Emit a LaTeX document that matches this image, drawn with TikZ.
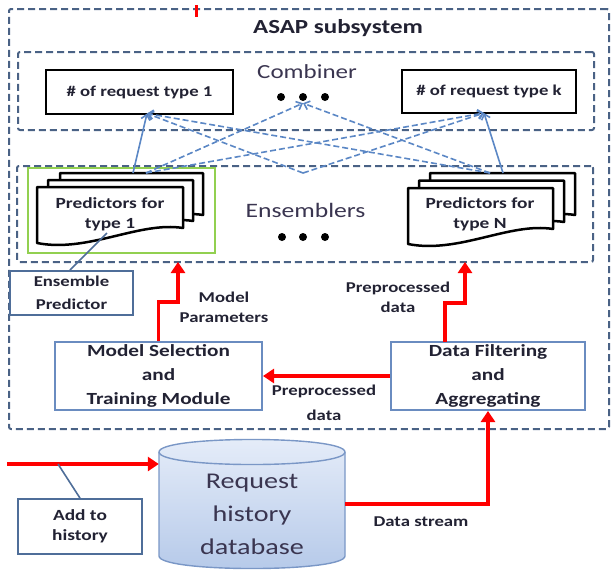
\documentclass[tikz,border=0pt]{standalone}
\usepackage{fontspec}
\setmainfont[FakeStretch=1.25]{Carlito}
\usetikzlibrary{arrows.meta}
\definecolor{dashblue}{HTML}{4A6285}
\definecolor{arrblue}{HTML}{5B87C5}
\definecolor{boxblue}{HTML}{6A8CC0}
\definecolor{linkblue}{HTML}{4F6E99}
\definecolor{leafgreen}{HTML}{92D050}
\definecolor{txt}{HTML}{222233}
\definecolor{softtxt}{HTML}{3A3550}
\definecolor{redline}{HTML}{FF0000}
\definecolor{dbtop}{HTML}{E6EDF9}
\definecolor{dbbot}{HTML}{B5C9E9}
\definecolor{dbedge}{HTML}{7A97C6}
\newcommand\docsheet[4]{%
  \filldraw[docstyle] (#1,#2) -- (#3,#2) -- (#3,{#4-15})
    .. controls ({#3-0.3*(#3-#1)},{#4-22}) and ({#1+0.35*(#3-#1)},{#4+10}) .. (#1,#4) -- cycle;}
\begin{document}
\begin{tikzpicture}[x=1pt,y=-1pt,
  dashbox/.style={draw=dashblue, line width=2pt, dash pattern=on 7pt off 4pt, rounded corners=2pt, inner sep=0pt},
  blackbox/.style={draw=black, line width=2.5pt, fill=white, inner sep=0pt, text=txt, font=\bfseries\fontsize{15}{18}\selectfont},
  bluebox/.style={draw=boxblue, line width=2pt, fill=white, inner sep=0pt, align=center, text=txt},
  lbl/.style={font=\bfseries\fontsize{15}{20}\selectfont, text=txt, align=center, inner sep=0pt},
  bigtitle/.style={font=\fontsize{20}{24}\selectfont, text=softtxt, inner sep=0pt},
  redarrow/.style={draw=redline, line width=3.5pt, -{Triangle[width=14pt,length=11pt]}},
  bluearrow/.style={draw=arrblue, line width=1.6pt, -{Straight Barb[length=5pt,width=9pt]}},
  bluedash/.style={bluearrow, dash pattern=on 6pt off 3pt},
  docstyle/.style={draw=black, line width=2.5pt, fill=white, line join=round},
  linkline/.style={draw=linkblue, line width=1.6pt}
]
\useasboundingbox (0,0) rectangle (611,574);

% outer subsystem box
\node[dashbox, minimum width=600pt, minimum height=420pt] (asap) at (309,219) {};
\draw[redline, line width=3pt] (196,5) -- (196,17);
\node[font=\bfseries\fontsize{20}{24}\selectfont, text=txt, inner sep=0pt] (title) at (338,28) {ASAP subsystem};

% combiner
\node[dashbox, minimum width=576pt, minimum height=78pt] (comb) at (306,91) {};
\node[bigtitle] (combl) at (307,72) {Combiner};
\node[blackbox, minimum width=187pt, minimum height=44pt] (box1) at (139.5,92) {\# of request type 1};
\node[blackbox, minimum width=174pt, minimum height=43pt] (boxk) at (489,91.5) {\# of request type k};
\node[inner sep=0pt, minimum width=56pt, minimum height=12pt] (cdots) at (303,97) {};
\fill[black] (281,97) circle[radius=4] (303,97) circle[radius=4] (325,97) circle[radius=4];

% ensemblers
\node[dashbox, minimum width=576pt, minimum height=96pt] (ens) at (305,214) {};
\node[bigtitle, font=\fontsize{20.5}{24}\selectfont] (ensl) at (305.5,210) {Ensemblers};
\fill[black] (282,237) circle[radius=4] (303,237) circle[radius=4] (325,237) circle[radius=4];
\node[draw=leafgreen, line width=1.6pt, minimum width=187pt, minimum height=85pt, inner sep=0pt] (grn) at (121.5,210.5) {};

% document stacks
\docsheet{60}{173}{203}{230}
\docsheet{48}{180}{193}{236}
\docsheet{37}{187}{183}{243}
\node[lbl, font=\bfseries\fontsize{15.5}{20}\selectfont] (p1) at (110,214) {Predictors for\\type 1};
\docsheet{430}{173}{575}{230}
\docsheet{419}{180.5}{564}{237}
\docsheet{408}{188}{553}{244}
\node[lbl, font=\bfseries\fontsize{15.5}{20}\selectfont] (pN) at (480,214) {Predictors for\\type N};

% connectors ensemblers -> combiner
\coordinate (c1s) at (133,173);
\coordinate (c1d) at (146,173);
\coordinate (cC) at (303,173);
\coordinate (cNd) at (490,173);
\coordinate (cNs) at (503,173);
\coordinate (t1) at (147,113.5);
\coordinate (tk) at (484,113);
\draw[bluearrow] (c1s) -- (t1);
\draw[bluearrow] (cNs) -- (tk);
\draw[bluedash] (c1d) -- (cdots.south);
\draw[bluedash] (c1d) -- (tk);
\draw[bluedash] (cNd) -- (t1);
\draw[bluedash] (cNd) -- (cdots.south);
\draw[bluedash] (cC) -- (t1);
\draw[bluedash] (cC) -- (tk);

% ensemble predictor callout
\node[bluebox, draw=linkblue, line width=1.8pt, minimum width=123pt, minimum height=44pt,
      font=\bfseries\fontsize{15}{23}\selectfont] (ep) at (71.5,293) {Ensemble\\Predictor};
\coordinate (epl) at (107,233);
\draw[linkline] (ep.north) ++(-1.5,0) -- (epl);

% modules
\node[bluebox, minimum width=207pt, minimum height=68pt, font=\bfseries\fontsize{17}{24}\selectfont] (ms) at (158.5,376) {Model Selection\\and\\Training Module};
\node[bluebox, minimum width=194pt, minimum height=68pt, font=\bfseries\fontsize{17}{24}\selectfont] (df) at (488,376) {Data Filtering\\and\\Aggregating};

% red flows
\coordinate (mp) at (178,262);
\draw[redarrow] (ms.north) |- (178,302) -- (mp);
\node[lbl] (mpl) at (224,307) {Model\\Parameters};
\coordinate (dfa) at (445,342);
\coordinate (pd) at (465,262);
\draw[redarrow] (dfa) |- (465,303) -- (pd);
\node[lbl] (ppu) at (398,297) {Preprocessed\\data};
\draw[redarrow] (df.west) -- (ms.east);
\node[lbl, font=\bfseries\fontsize{15}{25}\selectfont] (ppl) at (324,403) {Preprocessed\\data};

% database cylinder
\shade[top color=dbtop, bottom color=dbbot, draw=dbedge, line width=1.4pt]
  (159,452) -- (159,556) .. controls (159,572.7) and (345,572.7) .. (345,556)
  -- (345,452) .. controls (345,435.3) and (159,435.3) .. (159,452) -- cycle;
\draw[dbedge, line width=1.4pt] (159,452) .. controls (159,468.7) and (345,468.7) .. (345,452);
\node[inner sep=0pt, minimum width=186pt, minimum height=130pt] (db) at (252,504) {};
\node[font=\fontsize{22.5}{33}\selectfont, text=softtxt, align=center, inner sep=0pt] (dbl) at (252,514) {Request\\history\\database};

\coordinate (inL) at (7,464);
\draw[redarrow] (inL) -- (inL -| db.west);
\node[bluebox, draw=linkblue, line width=1.8pt, minimum width=124pt, minimum height=55pt,
      font=\bfseries\fontsize{15.5}{20}\selectfont] (ah) at (80,526.5) {Add to\\history};
\coordinate (ahl) at (58,464);
\draw[linkline] (ahl) -- (ah.north);

\draw[redarrow] (db.east) -| (df.south);
\node[lbl] (ds) at (421,522) {Data stream};
\end{tikzpicture}
\end{document}
